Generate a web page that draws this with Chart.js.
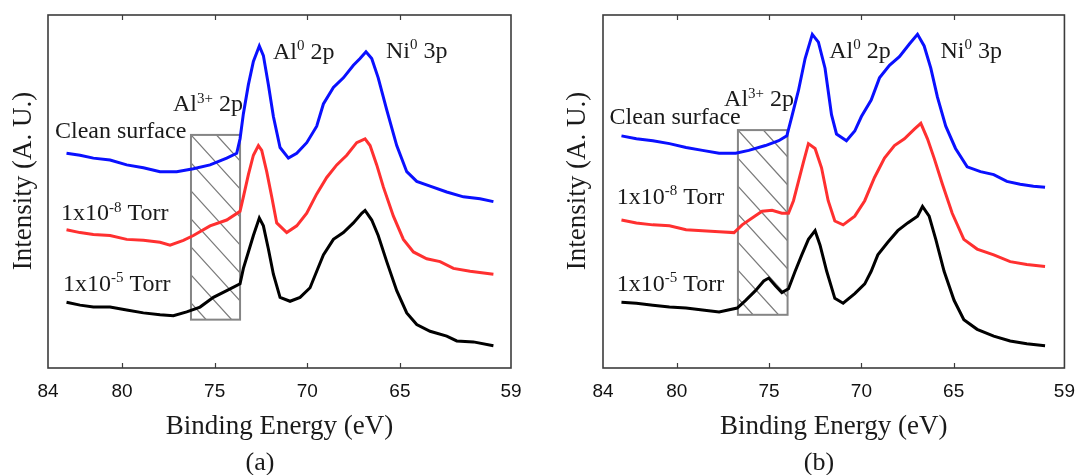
<!DOCTYPE html>
<html><head><meta charset="utf-8">
<script src="https://cdn.jsdelivr.net/npm/chart.js@4.4.1/dist/chart.umd.min.js"></script>
<style>
html,body{margin:0;padding:0;background:#fff;}
#wrap{position:relative;width:1079px;height:475px;overflow:hidden;background:#fff;}
canvas{position:absolute;top:0;}
#ca{left:0}
#cb{left:540px}
</style></head><body>
<div id="wrap"><canvas id="ca" width="540" height="475"></canvas><canvas id="cb" width="539" height="475"></canvas></div>
<script>
// ---------- data (binding energy in eV, intensity in arbitrary units) ----------
const xTicks = [84, 80, 75, 70, 65, 59];
const innerTicks = [80, 75, 70, 65];

// Panel (a)
const aCleanE = [83.0, 82.27, 81.55, 80.65, 79.75, 78.85, 77.95, 77.05, 76.15, 75.25, 74.35, 73.81, 73.63, 73.45, 73.18, 72.91, 72.59, 72.37, 72.1, 71.83, 71.47, 71.02, 70.57, 70.03, 69.49, 69.13, 68.59, 68.05, 67.51, 67.15, 66.83, 66.52, 66.17, 65.71, 65.17, 64.63, 64.09, 63.37, 62.47, 61.57, 60.67, 59.95];
const aCleanI = [222, 220, 217, 215, 210, 207, 203, 203, 206, 210, 217, 222, 237, 263, 293, 317, 333, 323, 293, 260, 228, 217, 222, 233, 250, 273, 290, 300, 313, 320, 327, 320, 300, 267, 230, 203, 193, 188, 182, 177, 175, 172];
const aT8E = [83.0, 82.27, 81.55, 80.65, 79.75, 78.85, 77.95, 77.41, 76.69, 76.15, 75.25, 74.35, 73.63, 73.45, 73.18, 72.91, 72.64, 72.46, 72.19, 71.92, 71.65, 71.11, 70.57, 70.03, 69.49, 68.95, 68.41, 67.87, 67.33, 66.88, 66.61, 66.25, 65.89, 65.35, 64.81, 64.27, 63.55, 62.83, 62.11, 61.21, 59.95];
const aT8I = [143, 140, 138, 137, 133, 132, 130, 127, 132, 137, 147, 153, 162, 177, 200, 220, 230, 225, 203, 177, 150, 140, 147, 160, 180, 197, 210, 220, 233, 237, 230, 210, 187, 157, 133, 120, 113, 110, 103, 100, 97];
const aT5E = [83.0, 82.27, 81.55, 80.65, 79.75, 78.85, 77.95, 77.23, 76.51, 75.79, 75.07, 74.35, 73.63, 73.45, 73.18, 72.91, 72.59, 72.37, 72.1, 71.83, 71.47, 70.93, 70.39, 69.85, 69.49, 69.13, 68.59, 68.05, 67.51, 67.06, 66.88, 66.52, 66.17, 65.71, 65.17, 64.63, 64.09, 63.37, 62.47, 61.93, 61.03, 59.95];
const aT5I = [68, 65, 63, 63, 60, 57, 55, 54, 58, 63, 73, 80, 87, 103, 120, 137, 155, 147, 123, 97, 73, 69, 73, 83, 100, 117, 133, 140, 150, 160, 163, 153, 137, 110, 80, 57, 45, 38, 33, 28, 27, 23];

// Panel (b)
const bCleanE = [83.0, 82.19, 81.3, 80.4, 79.5, 78.61, 77.71, 76.81, 76.1, 75.2, 74.48, 74.04, 73.77, 73.41, 73.05, 72.66, 72.33, 71.97, 71.62, 71.35, 70.81, 70.36, 70.0, 69.47, 69.02, 68.48, 67.94, 67.4, 66.96, 66.6, 66.24, 65.88, 65.43, 64.9, 64.27, 63.55, 62.83, 62.12, 61.4, 60.68, 60.05];
const bCleanI = [240, 237, 235, 232, 228, 225, 222, 222, 225, 230, 235, 240, 260, 287, 320, 345, 337, 310, 262, 242, 235, 245, 260, 277, 300, 313, 322, 335, 345, 333, 310, 280, 250, 227, 208, 203, 200, 193, 190, 188, 187];
const bT8E = [83.0, 82.19, 81.3, 80.4, 79.5, 78.61, 77.71, 76.9, 76.46, 75.92, 75.38, 74.84, 74.31, 73.95, 73.68, 73.41, 73.14, 72.87, 72.51, 72.16, 71.8, 71.44, 70.99, 70.36, 69.82, 69.29, 68.75, 68.21, 67.67, 67.13, 66.78, 66.42, 66.06, 65.61, 65.08, 64.45, 63.73, 62.83, 61.94, 61.04, 60.05];
const bT8I = [153, 150, 148, 147, 143, 142, 141, 140, 148, 155, 162, 163, 160, 160, 173, 193, 213, 232, 227, 207, 173, 152, 148, 157, 173, 197, 217, 230, 237, 247, 253, 237, 217, 190, 160, 133, 123, 117, 110, 107, 105];
const bT5E = [83.0, 82.19, 81.3, 80.4, 79.5, 78.61, 77.71, 76.73, 76.27, 75.74, 75.29, 75.02, 74.66, 74.31, 73.95, 73.59, 73.23, 72.87, 72.51, 72.24, 71.88, 71.44, 70.99, 70.36, 69.82, 69.47, 69.11, 68.57, 68.03, 67.49, 66.96, 66.69, 66.33, 65.97, 65.52, 64.98, 64.45, 63.73, 62.83, 61.94, 61.04, 60.05];
const bT5I = [68, 67, 65, 63, 62, 60, 58, 62, 70, 80, 90, 93, 85, 78, 82, 100, 117, 133, 142, 127, 100, 72, 67, 77, 87, 100, 117, 130, 142, 150, 157, 167, 157, 133, 100, 70, 50, 40, 33, 28, 25, 23];

// Shaded Al3+ 2p window [high eV, low eV]
const aWindowE = [76.28, 73.63];
const bWindowE = [76.69, 74.0];

// ---------- helpers ----------
const SERIF = '"Liberation Serif", "Times New Roman", serif';
const SANS = '"Liberation Sans", Arial, sans-serif';
const TXT = '#1a1a1a';

function pts(E, I){ return E.map((e,i)=>({x:e, y:I[i]})); }

function richText(ctx, parts, x, y, size){
  let cx = x;
  ctx.fillStyle = TXT;
  ctx.textAlign = 'left';
  ctx.textBaseline = 'alphabetic';
  for (const p of parts){
    const fs = p.sup ? Math.round(size*0.62) : size;
    ctx.font = fs + 'px ' + SERIF;
    const by = y + size*0.3 - (p.sup ? size*0.36 : 0);
    ctx.fillText(p.t, cx, by);
    cx += ctx.measureText(p.t).width;
  }
}

const panelPlugin = {
  id: 'panelDecor',
  beforeDatasetsDraw(chart, args, o){
    const {ctx, scales:{x, y}} = chart;
    // hatched window
    const L = x.getPixelForValue(o.win[0]), R = x.getPixelForValue(o.win[1]);
    const T = y.getPixelForValue(o.winY[1]), B = y.getPixelForValue(o.winY[0]);
    ctx.save();
    ctx.beginPath(); ctx.rect(L, T, R-L, B-T); ctx.clip();
    ctx.beginPath();
    ctx.strokeStyle = '#7c7c7c'; ctx.lineWidth = 1.3;
    const slope = 1.1, gap = 28;
    for (let k = -12; k < 12; k++){
      const y0 = T + k*gap;
      ctx.moveTo(L, y0); ctx.lineTo(R, y0 + slope*(R-L));
    }
    ctx.stroke();
    ctx.restore();
    ctx.save();
    ctx.strokeStyle = '#858585'; ctx.lineWidth = 2;
    ctx.strokeRect(L, T, R-L, B-T);
    ctx.restore();
  },
  afterDatasetsDraw(chart, args, o){
    const {ctx, chartArea:a, scales:{x, y}} = chart;
    ctx.save();
    // frame
    ctx.strokeStyle = '#3c3c3c'; ctx.lineWidth = 1.6;
    ctx.strokeRect(a.left, a.top, a.right-a.left, a.bottom-a.top);
    // inward tick marks on bottom and top
    ctx.beginPath();
    for (const v of innerTicks){
      const px = Math.round(x.getPixelForValue(v)) + 0.5;
      ctx.moveTo(px, a.bottom); ctx.lineTo(px, a.bottom - 5);
      ctx.moveTo(px, a.top); ctx.lineTo(px, a.top + 5);
    }
    ctx.lineWidth = 1.2; ctx.stroke();
    // annotations
    for (const an of o.labels){
      richText(ctx, an.parts, x.getPixelForValue(an.e), y.getPixelForValue(an.v), 24);
    }
    // y title
    ctx.save();
    ctx.translate(o.yTitleX, o.yTitleY);
    ctx.rotate(-Math.PI/2);
    ctx.font = '27px ' + SERIF; ctx.fillStyle = TXT;
    ctx.textAlign = 'center'; ctx.textBaseline = 'middle';
    ctx.fillText('Intensity (A. U.)', 0, 0);
    ctx.restore();
    // panel letter
    ctx.font = '26px ' + SERIF; ctx.fillStyle = TXT;
    ctx.textAlign = 'center'; ctx.textBaseline = 'middle';
    ctx.fillText(o.letter, o.letterX, 463);
    ctx.restore();
  }
};

function makeChart(id, sets, pad, deco){
  const colors = ['#0a10ff', '#ff3030', '#000000'];
  return new Chart(document.getElementById(id), {
    type: 'line',
    data: { datasets: sets.map((s,i)=>({
      label: ['Clean surface','1x10-8 Torr','1x10-5 Torr'][i],
      data: s, borderColor: colors[i], borderWidth: 3, pointRadius: 0,
      tension: 0, fill: false, borderJoinStyle: 'miter'
    }))},
    options: {
      responsive: false, animation: false, devicePixelRatio: 1,
      layout: { padding: pad },
      plugins: { legend: {display:false}, tooltip: {enabled:false}, panelDecor: deco },
      scales: {
        x: {
          type: 'linear', min: 59, max: 84, reverse: true,
          afterBuildTicks: s => { s.ticks = xTicks.map(v=>({value:v})); },
          ticks: { autoSkip:false, maxRotation:0, padding:4, color:'#111',
                   font:{family:SANS, size:19}, callback: v => String(v) },
          grid: { display:false }, border: { display:false },
          title: { display:true, text:'Binding Energy (eV)', color:TXT,
                   font:{family:SERIF, size:27}, padding:{top:4, bottom:0} }
        },
        y: { type:'linear', min:0, max:365, display:false }
      }
    },
    plugins: [panelPlugin]
  });
}

const sup = t => ({t, sup:true});
const nrm = t => ({t});

makeChart('ca',
  [pts(aCleanE,aCleanI), pts(aT8E,aT8I), pts(aT5E,aT5I)],
  {left:48, right:29, top:15, bottom:31.8},
  { win:aWindowE, winY:[50, 241], yTitleX:24, yTitleY:181, letter:'(a)', letterX:260,
    labels:[
      {e:83.62, v:245, parts:[nrm('Clean surface')]},
      {e:83.30, v:160, parts:[nrm('1x10'), sup('-8'), nrm(' Torr')]},
      {e:83.19, v:87,  parts:[nrm('1x10'), sup('-5'), nrm(' Torr')]},
      {e:77.25, v:273, parts:[nrm('Al'), sup('3+'), nrm(' 2p')]},
      {e:71.85, v:327, parts:[nrm('Al'), sup('0'), nrm(' 2p')]},
      {e:65.75, v:328, parts:[nrm('Ni'), sup('0'), nrm(' 3p')]}
    ]});

makeChart('cb',
  [pts(bCleanE,bCleanI), pts(bT8E,bT8I), pts(bT5E,bT5I)],
  {left:63, right:11, top:15, bottom:31.8},
  { win:bWindowE, winY:[55, 246], yTitleX:38, yTitleY:181, letter:'(b)', letterX:279,
    labels:[
      {e:83.65, v:260, parts:[nrm('Clean surface')]},
      {e:83.25, v:177, parts:[nrm('1x10'), sup('-8'), nrm(' Torr')]},
      {e:83.25, v:87,  parts:[nrm('1x10'), sup('-5'), nrm(' Torr')]},
      {e:77.44, v:278, parts:[nrm('Al'), sup('3+'), nrm(' 2p')]},
      {e:71.74, v:328, parts:[nrm('Al'), sup('0'), nrm(' 2p')]},
      {e:65.72, v:328, parts:[nrm('Ni'), sup('0'), nrm(' 3p')]}
    ]});
</script>
</body></html>
